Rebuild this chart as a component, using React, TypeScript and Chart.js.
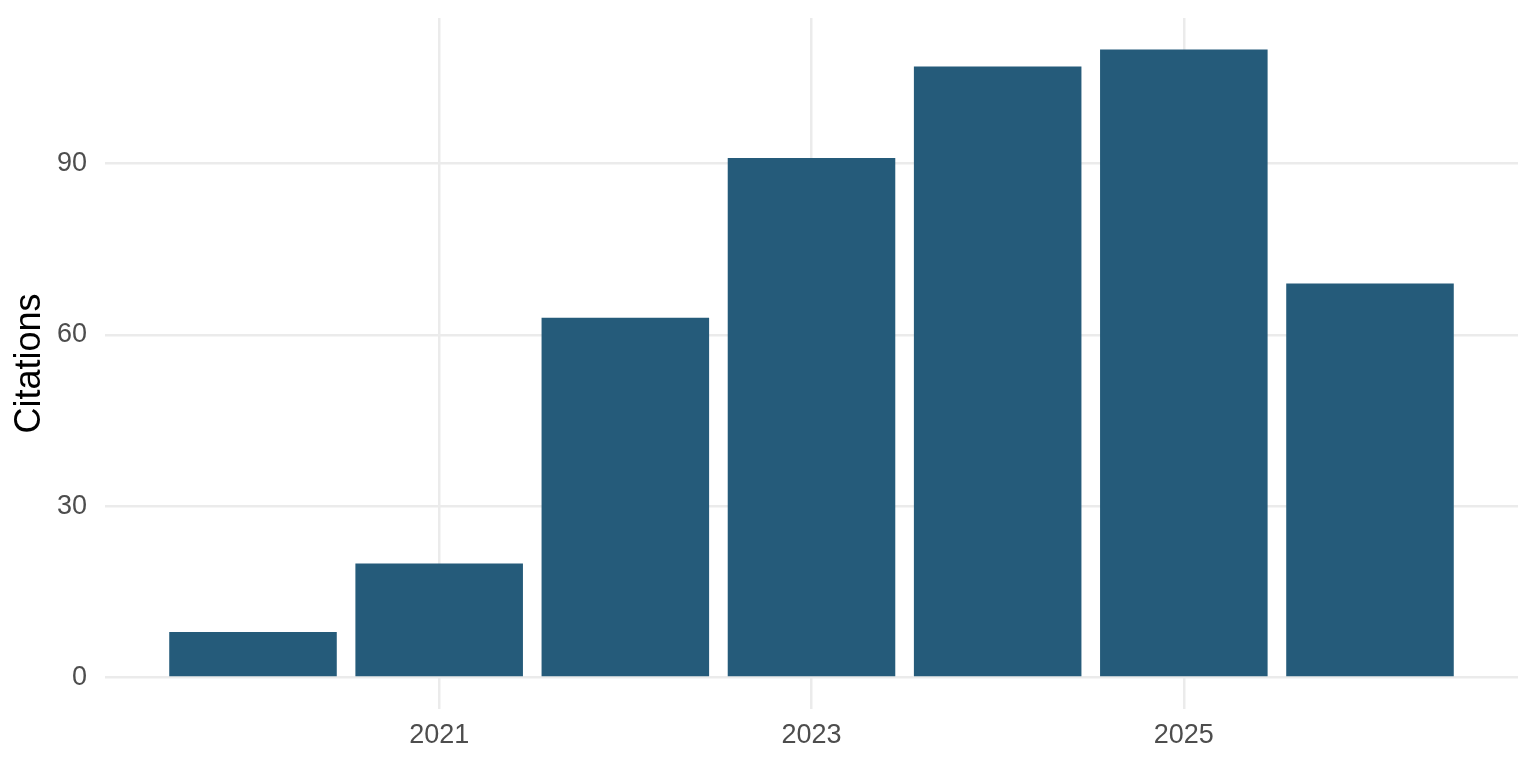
import { useEffect, useRef } from 'react';
import { Chart, registerables } from 'chart.js';

Chart.register(...registerables);

const years = [2020, 2021, 2022, 2023, 2024, 2025, 2026];
const citations = [8, 20, 63, 91, 107, 110, 69];
const xTicks = [2021, 2023, 2025];
const yTicks = [0, 30, 60, 90];

const FONT = '"Liberation Sans", Arial, Helvetica, sans-serif';

export default function App() {
	const canvasRef = useRef<HTMLCanvasElement | null>(null);
	const chartRef = useRef<Chart | null>(null);

	useEffect(() => {
		document.body.style.margin = '0';
		const ctx = canvasRef.current?.getContext('2d');
		if (chartRef.current) {
			chartRef.current.destroy();
		}
		if (ctx) {
			chartRef.current = new Chart(ctx, {
				type: 'bar',
				data: {
					datasets: [
						{
							label: 'Citations',
							data: years.map((y, i) => ({ x: y, y: citations[i] })),
							backgroundColor: '#255b7a',
							borderWidth: 0,
							categoryPercentage: 1,
							barPercentage: 0.9,
						},
					],
				},
				options: {
					animation: false,
					responsive: true,
					maintainAspectRatio: false,
					layout: { padding: { top: 18, right: 18, bottom: 0, left: 0 } },
					plugins: {
						legend: { display: false },
						tooltip: { enabled: false },
					},
					scales: {
						x: {
							type: 'linear',
							min: 2019.205,
							max: 2026.795,
							offset: false,
							afterBuildTicks: (scale) => {
								scale.ticks = xTicks.map((v) => ({ value: v }));
							},
							afterFit: (scale: any) => {
								scale.height = 59;
								scale.paddingLeft = 0;
								scale.paddingRight = 0;
							},
							grid: { offset: false, color: '#ebebeb', lineWidth: 2.5, drawTicks: false },
							border: { display: false },
							ticks: {
								padding: 10,
								color: '#4d4d4d',
								font: { family: FONT, size: 27 },
								callback: (v) => String(v),
							},
						},
						y: {
							type: 'linear',
							min: -5.5,
							max: 115.5,
							afterBuildTicks: (scale) => {
								scale.ticks = yTicks.map((v) => ({ value: v }));
							},
							afterFit: (scale: any) => {
								scale.width = 105;
								scale.paddingTop = 0;
								scale.paddingBottom = 0;
							},
							grid: { color: '#ebebeb', lineWidth: 2.5, drawTicks: false },
							border: { display: false },
							ticks: {
								padding: 18,
								color: '#4d4d4d',
								font: { family: FONT, size: 27 },
							},
							title: {
								display: true,
								text: 'Citations',
								color: '#000000',
								font: { family: FONT, size: 36 },
								padding: { top: 8, bottom: 0 },
							},
						},
					},
				},
			});
		}
		return () => {
			if (chartRef.current) {
				chartRef.current.destroy();
				chartRef.current = null;
			}
		};
	}, []);

	return (
		<div style={{ width: 1536, height: 768, position: 'relative' }}>
			<canvas ref={canvasRef}></canvas>
		</div>
	);
}
